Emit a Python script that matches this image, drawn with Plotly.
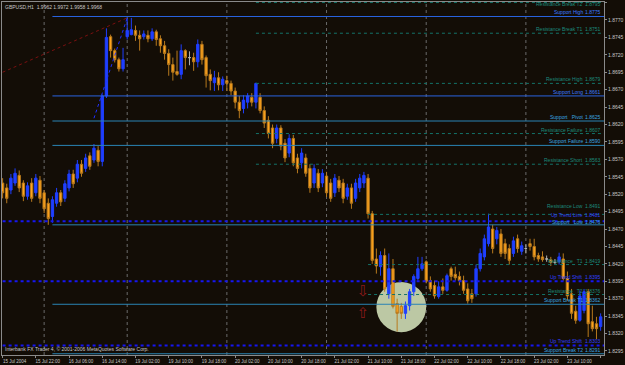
import plotly.graph_objects as go

symbol_title = "GBPUSD,H1  1.9962 1.9972 1.9958 1.9968"
copyright_text = "Interbank FX Trader 4, © 2001-2006 MetaQuotes Software Corp."

bars = list(range(145))
open_ = [1.8536,1.8529,1.8526,1.8536,1.8547,1.8536,1.8517,1.8536,1.8522,1.8540,
         1.8522,1.8507,1.8488,1.8507,1.8522,1.8514,1.8529,1.8549,1.8543,1.8563,
         1.8557,1.8575,1.8569,1.8583,1.8567,1.8661,1.8746,1.8726,1.8713,1.8700,
         1.8746,1.8749,1.8755,1.8748,1.8746,1.8748,1.8743,1.8753,1.8743,1.8733,
         1.8722,1.8706,1.8696,1.8692,1.8726,1.8716,1.8716,1.8710,1.8735,1.8716,
         1.8692,1.8680,1.8687,1.8677,1.8683,1.8679,1.8668,1.8652,1.8643,1.8652,
         1.8659,1.8652,1.8659,1.8640,1.8626,1.8615,1.8600,1.8615,1.8593,1.8579,
         1.8600,1.8572,1.8565,1.8572,1.8557,1.8536,1.8550,1.8536,1.8546,1.8536,
         1.8522,1.8540,1.8536,1.8517,1.8529,1.8514,1.8529,1.8536,1.8543,1.8492,
         1.8427,1.8416,1.8432,1.8377,1.8413,1.8363,1.8359,1.8349,1.8360,1.8380,
         1.8399,1.8413,1.8423,1.8396,1.8389,1.8373,1.8387,1.8382,1.8413,1.8405,
         1.8402,1.8396,1.8384,1.8377,1.8377,1.8413,1.8430,1.8449,1.8470,1.8456,
         1.8463,1.8449,1.8442,1.8435,1.8456,1.8438,1.8442,1.8449,1.8445,1.8432,
         1.8430,1.8427,1.8426,1.8422,1.8423,1.8427,1.8399,1.8377,1.8352,1.8339,
         1.8353,1.8380,1.8337,1.8334,1.8330]
high = [1.8543,1.8535,1.8549,1.8557,1.8554,1.8540,1.8537,1.8543,1.8549,1.8546,
        1.8526,1.8514,1.8517,1.8529,1.8526,1.8540,1.8555,1.8555,1.8569,1.8569,
        1.8578,1.8580,1.8592,1.8589,1.8663,1.8758,1.8749,1.8729,1.8716,1.8730,
        1.8773,1.8773,1.8762,1.8755,1.8755,1.8755,1.8758,1.8756,1.8748,1.8740,
        1.8728,1.8716,1.8726,1.8735,1.8728,1.8725,1.8723,1.8742,1.8740,1.8719,
        1.8699,1.8697,1.8695,1.8689,1.8690,1.8683,1.8673,1.8661,1.8662,1.8665,
        1.8665,1.8680,1.8665,1.8646,1.8632,1.8620,1.8620,1.8619,1.8599,1.8606,
        1.8605,1.8578,1.8586,1.8578,1.8563,1.8563,1.8556,1.8556,1.8552,1.8542,
        1.8549,1.8546,1.8542,1.8535,1.8535,1.8542,1.8549,1.8552,1.8549,1.8496,
        1.8442,1.8438,1.8442,1.8435,1.8427,1.8370,1.8364,1.8366,1.8384,1.8405,
        1.8430,1.8430,1.8425,1.8402,1.8396,1.8395,1.8399,1.8406,1.8416,1.8416,
        1.8409,1.8403,1.8392,1.8384,1.8419,1.8442,1.8462,1.8492,1.8476,1.8473,
        1.8470,1.8456,1.8448,1.8459,1.8462,1.8452,1.8448,1.8456,1.8456,1.8436,
        1.8438,1.8432,1.8430,1.8427,1.8436,1.8435,1.8409,1.8384,1.8360,1.8382,
        1.8384,1.8384,1.8360,1.8344,1.8349]
low = [1.8514,1.8507,1.8520,1.8532,1.8523,1.8510,1.8512,1.8509,1.8517,1.8507,
       1.8493,1.8476,1.8479,1.8502,1.8503,1.8509,1.8524,1.8529,1.8537,1.8545,
       1.8552,1.8555,1.8565,1.8560,1.8560,1.8658,1.8716,1.8709,1.8696,1.8696,
       1.8742,1.8748,1.8740,1.8726,1.8742,1.8738,1.8740,1.8733,1.8723,1.8713,
       1.8690,1.8683,1.8690,1.8685,1.8699,1.8705,1.8697,1.8702,1.8706,1.8673,
       1.8669,1.8668,1.8669,1.8668,1.8668,1.8662,1.8643,1.8629,1.8636,1.8643,
       1.8646,1.8643,1.8636,1.8615,1.8600,1.8586,1.8593,1.8583,1.8566,1.8573,
       1.8560,1.8550,1.8557,1.8545,1.8522,1.8529,1.8523,1.8530,1.8516,1.8509,
       1.8516,1.8523,1.8507,1.8512,1.8499,1.8509,1.8523,1.8529,1.8485,1.8420,
       1.8406,1.8403,1.8380,1.8370,1.8356,1.8323,1.8341,1.8341,1.8353,1.8374,
       1.8396,1.8410,1.8392,1.8380,1.8370,1.8370,1.8377,1.8380,1.8396,1.8396,
       1.8389,1.8377,1.8363,1.8364,1.8373,1.8409,1.8425,1.8445,1.8435,1.8448,
       1.8430,1.8427,1.8419,1.8430,1.8436,1.8433,1.8435,1.8439,1.8425,1.8423,
       1.8423,1.8423,1.8417,1.8419,1.8419,1.8396,1.8367,1.8341,1.8334,1.8337,
       1.8349,1.8315,1.8323,1.8312,1.8324]
close = [1.8522,1.8514,1.8543,1.8550,1.8529,1.8517,1.8532,1.8514,1.8543,1.8514,
         1.8499,1.8485,1.8512,1.8522,1.8509,1.8535,1.8549,1.8535,1.8563,1.8550,
         1.8572,1.8560,1.8586,1.8567,1.8661,1.8745,1.8726,1.8713,1.8700,1.8713,
         1.8755,1.8756,1.8748,1.8743,1.8750,1.8743,1.8753,1.8742,1.8733,1.8722,
         1.8706,1.8695,1.8692,1.8726,1.8716,1.8716,1.8710,1.8735,1.8713,1.8690,
         1.8683,1.8687,1.8677,1.8685,1.8679,1.8668,1.8652,1.8640,1.8655,1.8661,
         1.8652,1.8679,1.8640,1.8622,1.8607,1.8593,1.8615,1.8589,1.8572,1.8600,
         1.8565,1.8557,1.8579,1.8550,1.8529,1.8557,1.8529,1.8550,1.8522,1.8514,
         1.8543,1.8529,1.8514,1.8529,1.8507,1.8536,1.8543,1.8547,1.8492,1.8425,
         1.8417,1.8432,1.8384,1.8413,1.8359,1.8349,1.8349,1.8360,1.8380,1.8402,
         1.8413,1.8420,1.8395,1.8384,1.8374,1.8387,1.8382,1.8403,1.8402,1.8400,
         1.8396,1.8382,1.8367,1.8370,1.8413,1.8435,1.8456,1.8473,1.8442,1.8468,
         1.8435,1.8435,1.8425,1.8453,1.8442,1.8446,1.8442,1.8445,1.8430,1.8427,
         1.8426,1.8427,1.8422,1.8422,1.8430,1.8399,1.8374,1.8349,1.8339,1.8374,
         1.8380,1.8334,1.8327,1.8327,1.8344]

time_tick_bars = list(range(0, 145, 8))
time_tick_labels = ["15 Jul 2004", "15 Jul 22:00", "16 Jul 06:00", "16 Jul 14:00",
                    "19 Jul 02:00", "19 Jul 10:00", "19 Jul 18:00", "20 Jul 02:00",
                    "20 Jul 10:00", "20 Jul 18:00", "21 Jul 02:00", "21 Jul 10:00",
                    "21 Jul 18:00", "22 Jul 02:00", "22 Jul 10:00", "22 Jul 18:00",
                    "23 Jul 02:00", "23 Jul 10:00", "23 Jul 18:00"]
grid_bars = [10, 30, 54, 78, 102, 126]

level_names = ["Resistance Break T2", "Support High", "Resistance Break T1", "Resistance High",
               "Support Long", "Support   Pivot", "Resistance Failure", "Support Failure",
               "Resistance Short", "Resistance Low", "Up Trend Line", "Support   Low",
               "Resistance   T1", "Up Trend Shift", "Resistance   T2", "Support Break T1",
               "Up Trend Shift", "Support Break T2"]
level_values = [1.8795, 1.8775, 1.8751, 1.8679, 1.8661, 1.8625, 1.8607, 1.8590, 1.8563,
                1.8491, 1.8481, 1.8476, 1.8419, 1.8395, 1.8376, 1.8362, 1.8303, 1.8291]
level_start = [61, 12, 61, 61, 12, 12, 61, 12, 61, 88, 0, 12, 88, 0, 88, 12, 0, 12]
level_kind = ["res", "sup_strong", "res", "res", "sup_strong", "sup", "res", "sup", "res",
              "res", "trend", "sup", "res", "trend", "res", "sup", "trend", "sup"]
label_yshift = [3, 0, 0, 0, 0, 0, 0, 0, 0, 4, 2, -1, 0, 0, 0, 0, 0, 0]

red_line_bars = [0, 30]
red_line_prices = [1.8695, 1.8773]
blue_line_bars = [22, 30]
blue_line_prices = [1.8629, 1.8773]

arrow_bars = [86.8, 86.8]
arrow_prices = [1.8379, 1.8348]
arrow_glyphs = ["⇩", "⇧"]

highlight_bar, highlight_price = 96.0, 1.8358
highlight_rx, highlight_ry = 6.0, 0.0036

X_RANGE = [-0.144, 144.81]
Y_RANGE = [1.82892, 1.87958]

BG = "#130d06"
AXIS = "#8a8a8a"
TXT = "#c8c8c8"
FONT = "Liberation Sans"

styles = {
    "res": dict(line=dict(color="#147268", width=1, dash="dot"), text="#1c8a7c"),
    "sup": dict(line=dict(color="#2a84b4", width=1), text="#3aa6e0"),
    "sup_strong": dict(line=dict(color="#2a64e0", width=1), text="#3b7cff"),
    "trend": dict(line=dict(color="#1616f0", width=2, dash="dot"), text="#3040ff"),
}

fig = go.Figure()

for gb in grid_bars:
    fig.add_shape(type="line", xref="x", yref="paper", x0=gb, x1=gb, y0=0, y1=1,
                  line=dict(color="#6a6a6a", width=1, dash="dot"), layer="below")

fig.add_shape(type="circle", xref="x", yref="y",
              x0=highlight_bar - highlight_rx, x1=highlight_bar + highlight_rx,
              y0=highlight_price - highlight_ry, y1=highlight_price + highlight_ry,
              fillcolor="#cbd8b2", opacity=0.92, line=dict(width=0), layer="below")

body_idx = [i for i in bars if open_[i] != close[i]]
doji_idx = [i for i in bars if open_[i] == close[i]]


def pick(idx, arr):
    return [arr[i] for i in idx]


fig.add_trace(go.Candlestick(
    x=pick(body_idx, bars), open=pick(body_idx, open_), high=pick(body_idx, high),
    low=pick(body_idx, low), close=pick(body_idx, close),
    increasing=dict(line=dict(color="#1f3fff", width=1), fillcolor="#1f3fff"),
    decreasing=dict(line=dict(color="#b87a1e", width=1), fillcolor="#ffa41c"),
    hoverinfo="skip"))
fig.add_trace(go.Candlestick(
    x=pick(doji_idx, bars), open=pick(doji_idx, open_), high=pick(doji_idx, high),
    low=pick(doji_idx, low), close=pick(doji_idx, close),
    increasing=dict(line=dict(color="#b0b0b0", width=1), fillcolor="#b0b0b0"),
    decreasing=dict(line=dict(color="#b0b0b0", width=1), fillcolor="#b0b0b0"),
    hoverinfo="skip"))

fig.add_trace(go.Scatter(x=red_line_bars, y=red_line_prices, mode="lines",
                         line=dict(color="#7a1010", width=1, dash="dot"), hoverinfo="skip"))
fig.add_trace(go.Scatter(x=blue_line_bars, y=blue_line_prices, mode="lines",
                         line=dict(color="#2030ff", width=1, dash="dot"), hoverinfo="skip"))

for name, val, start, kind, ys in zip(level_names, level_values, level_start, level_kind, label_yshift):
    st = styles[kind]
    fig.add_trace(go.Scatter(x=[start, X_RANGE[1]], y=[val, val], mode="lines",
                             line=st["line"], hoverinfo="skip"))
    top = val >= Y_RANGE[1] - 0.0004
    ya = "top" if top else "bottom"
    fig.add_annotation(x=0.967, xref="paper", y=val, yref="y", text=name, showarrow=False,
                       xanchor="right", yanchor=ya, yshift=ys, borderpad=0,
                       font=dict(family=FONT, size=5, color=st["text"]))
    fig.add_annotation(x=0.9975, xref="paper", y=val, yref="y", text=f"{val:.4f}", showarrow=False,
                       xanchor="right", yanchor=ya, yshift=ys, borderpad=0,
                       font=dict(family=FONT, size=5, color=st["text"]))

fig.add_trace(go.Scatter(x=arrow_bars, y=arrow_prices, mode="text", text=arrow_glyphs,
                         textposition="middle center",
                         textfont=dict(family="DejaVu Sans", size=15, color="#8b1a1a"),
                         hoverinfo="skip"))

fig.add_annotation(x=0.004, xref="paper", y=0.986, yref="paper", text=symbol_title,
                   showarrow=False, xanchor="left", yanchor="middle", borderpad=0,
                   font=dict(family=FONT, size=5, color=TXT))
fig.add_annotation(x=0.004, xref="paper", y=0.017, yref="paper", text=copyright_text,
                   showarrow=False, xanchor="left", yanchor="middle", borderpad=0,
                   font=dict(family=FONT, size=5, color=TXT))

fig.update_layout(
    width=625, height=365, margin=dict(l=1, r=20, t=1, b=9),
    paper_bgcolor=BG, plot_bgcolor=BG, showlegend=False, boxgap=0.2,
    xaxis=dict(range=X_RANGE, rangeslider=dict(visible=False), showgrid=False, zeroline=False,
               tickmode="array", tickvals=time_tick_bars, ticktext=time_tick_labels,
               ticks="outside", ticklen=2, tickcolor=AXIS, ticklabelshift=12,
               tickfont=dict(family=FONT, size=4.5, color=TXT),
               showline=True, linecolor=AXIS, linewidth=1, mirror=True),
    yaxis=dict(range=Y_RANGE, side="right", showgrid=False, zeroline=False,
               tick0=1.8295, dtick=0.0025, tickformat=".4f",
               ticks="outside", ticklen=2, tickcolor=AXIS,
               tickfont=dict(family=FONT, size=5, color=TXT),
               showline=True, linecolor=AXIS, linewidth=1, mirror=True),
)

fig.write_html("out.html")
